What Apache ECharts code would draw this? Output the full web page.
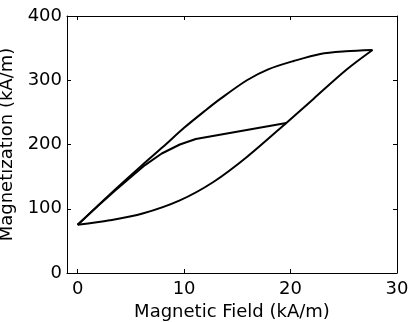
<!DOCTYPE html>
<html>
<head>
<meta charset="utf-8">
<script src="https://cdn.jsdelivr.net/npm/echarts@6/dist/echarts.min.js"></script>
<style>
html,body{margin:0;padding:0;background:#fff;}
#chart{width:408px;height:322px;}
</style>
</head>
<body>
<div id="chart"></div>
<script>
// Descending (upper) branch of the major loop
const upperX = [0, 3, 6, 8, 10, 12, 13.4, 15.9, 17.9, 20.3, 22.8, 25.2, 27.7];
const upperY = [75, 122, 167, 196, 226, 253, 271, 300, 317, 330, 341, 345, 347];
// Ascending (lower) branch of the major loop
const lowerX = [0, 3, 6.1, 9.6, 12.75, 15.9, 19.6, 22.15, 25.3, 27.7];
const lowerY = [75, 82, 92.5, 113, 141.6, 180.5, 233.5, 271, 317, 347];
// Inner (minor loop) branch
const innerX = [0, 2, 3.5, 4.76, 6.33, 7.9, 9.6, 11.1, 19.6];
const innerY = [75, 106, 128, 146, 168, 186, 200, 208.5, 233.5];

const xTicks = [0, 10, 20, 30];
const xTitle = 'Magnetic Field (kA/m)';
const yTitle = 'Magnetization (kA/m)';

function pairs(xs, ys) { return xs.map((x, i) => [x, ys[i]]); }

const font = 'DejaVu Sans';
const chart = echarts.init(document.getElementById('chart'), null, {renderer: 'canvas'});
const lineStyle = {color: '#000', width: 2};
const axisLine = {show: true, onZero: false, lineStyle: {color: '#000', width: 1}};
chart.setOption({
  animation: false,
  backgroundColor: '#fff',
  grid: {left: 67, right: 11, top: 16, bottom: 49, containLabel: false, outerBoundsMode: 'none'},
  xAxis: [{
    type: 'value', min: -1, max: 30, position: 'bottom',
    axisLine: axisLine,
    splitLine: {show: false},
    axisTick: {show: true, inside: true, length: 4, customValues: xTicks, lineStyle: {color: '#000'}},
    axisLabel: {show: true, customValues: xTicks, margin: 7, color: '#000', fontFamily: font, fontSize: 18},
    name: xTitle, nameLocation: 'middle', nameGap: 27,
    nameTextStyle: {color: '#000', fontFamily: font, fontSize: 18}
  }, {
    type: 'value', min: -1, max: 30, position: 'top',
    axisLine: axisLine,
    splitLine: {show: false},
    axisTick: {show: true, inside: true, length: 4, customValues: xTicks, lineStyle: {color: '#000'}},
    axisLabel: {show: false}
  }],
  yAxis: [{
    type: 'value', min: 0, max: 400, interval: 100, position: 'left',
    axisLine: axisLine,
    splitLine: {show: false},
    axisTick: {show: true, inside: true, length: 4, lineStyle: {color: '#000'}},
    axisLabel: {show: true, margin: 5, color: '#000', fontFamily: font, fontSize: 18},
    name: yTitle, nameLocation: 'middle', nameGap: 44,
    nameTextStyle: {color: '#000', fontFamily: font, fontSize: 18}
  }, {
    type: 'value', min: 0, max: 400, interval: 100, position: 'right',
    axisLine: axisLine,
    splitLine: {show: false},
    axisTick: {show: true, inside: true, length: 4, lineStyle: {color: '#000'}},
    axisLabel: {show: false}
  }],
  series: [
    {type: 'line', data: pairs(upperX, upperY), showSymbol: false, smooth: 0.3, lineStyle: lineStyle, silent: true},
    {type: 'line', data: pairs(lowerX, lowerY), showSymbol: false, smooth: 0.3, lineStyle: lineStyle, silent: true},
    {type: 'line', data: pairs(innerX, innerY), showSymbol: false, smooth: false, lineStyle: lineStyle, silent: true}
  ]
});
</script>
</body>
</html>
